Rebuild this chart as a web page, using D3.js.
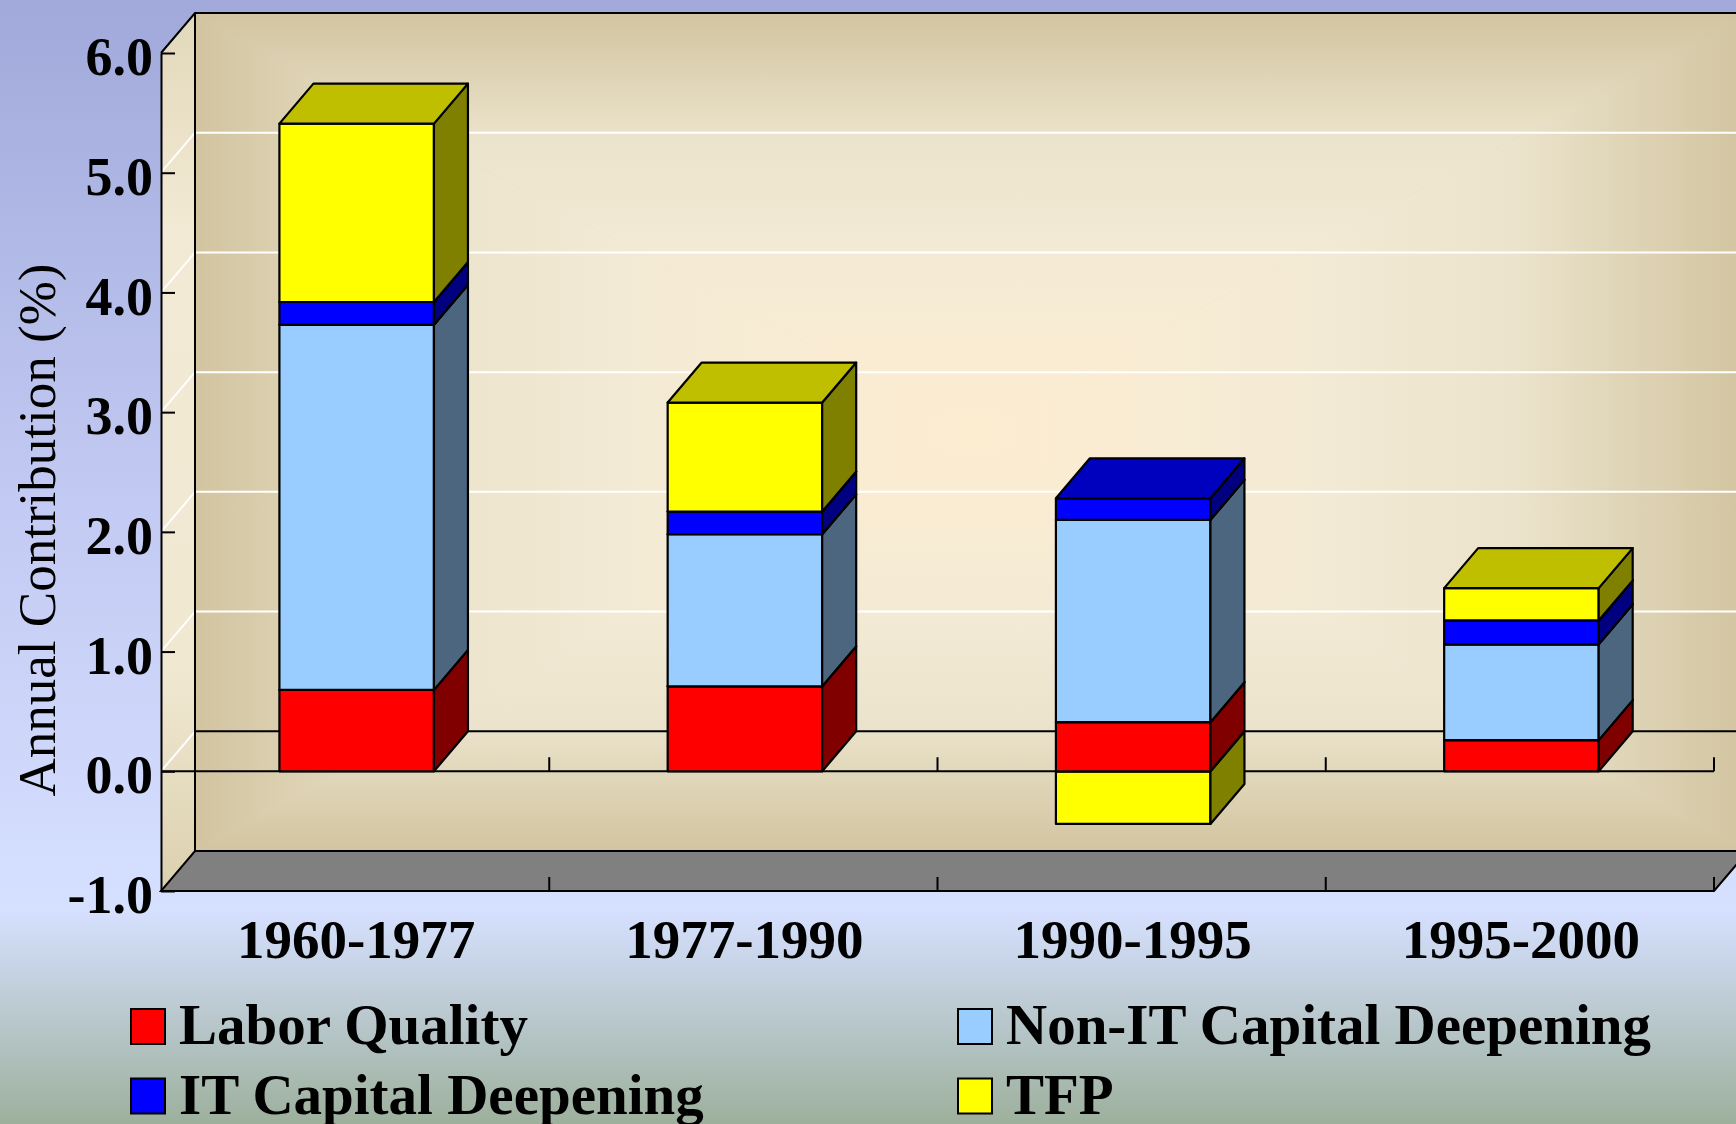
<!DOCTYPE html>
<html>
<head>
<meta charset="utf-8">
<script src="https://cdn.jsdelivr.net/npm/d3@7"></script>
<style>
  body { margin: 0; }
  svg { display: block; }
</style>
</head>
<body>
<svg id="chart" width="1736" height="1124"></svg>
<script>
// values (annual contribution, %)
const periods = ["1960-1977", "1977-1990", "1990-1995", "1995-2000"];
const seriesNames = ["Labor Quality", "Non-IT Capital Deepening", "IT Capital Deepening", "TFP"];
const laborQuality = [0.68, 0.71, 0.41, 0.26];
const nonITCapital = [3.05, 1.27, 1.69, 0.80];
const itCapital = [0.19, 0.19, 0.18, 0.20];
const tfp = [1.49, 0.91, -0.44, 0.27];
const yTicks = [-1, 0, 1, 2, 3, 4, 5, 6];
const seriesColors = ["#ff0000", "#99ccff", "#0000ff", "#ffff00"];

const svg = d3.select("#chart");
const width = +svg.attr("width");
const height = +svg.attr("height");
const margin = {top: 53, right: 22, bottom: 233, left: 161};

// 3d depth offset
const DX = 34, DY = 40;
const font = "'Liberation Serif', 'Times New Roman', serif";

const x = d3.scaleBand()
  .domain(periods)
  .range([margin.left, width - margin.right]);

const y = d3.scaleLinear()
  .domain([-1, 6])
  .range([height - margin.bottom, margin.top]);

const keys = ["labor", "nonIT", "it", "tfp"];
const rows = periods.map((p, i) => ({
  period: p, labor: laborQuality[i], nonIT: nonITCapital[i], it: itCapital[i], tfp: tfp[i]
}));
const stacked = d3.stack().keys(keys).offset(d3.stackOffsetDiverging)(rows);

const shade = (c, k) => { const r = d3.rgb(c); return d3.rgb(r.r * k, r.g * k, r.b * k).formatHex(); };

const defs = svg.append("defs");

// page background
const bg = defs.append("linearGradient").attr("id", "pageBg")
  .attr("x1", 0).attr("y1", 0).attr("x2", 0).attr("y2", 1);
bg.append("stop").attr("offset", 0).attr("stop-color", "#a0a9da");
bg.append("stop").attr("offset", 0.45).attr("stop-color", "#c3caf3");
bg.append("stop").attr("offset", 0.81).attr("stop-color", "#d6e0ff");
bg.append("stop").attr("offset", 1).attr("stop-color", "#9db09c");

svg.append("rect").attr("width", width).attr("height", height).attr("fill", "url(#pageBg)");

// back wall, "from center" rectangular gradient made of 4 triangles
const X0 = margin.left + DX, X1 = width - margin.right + DX;
const Y0 = y(6) - DY, Y1 = y(-1) - DY;
const cx = (X0 + X1) / 2, cy = (Y0 + Y1) / 2;
const wallStops = [[0, "#d2c4a0"], [0.3, "#ebe3cb"], [0.55, "#f3ead5"], [1, "#fdedd1"]];
const wallParts = [
  {id: "wT", pts: [[X0, Y0], [X1, Y0], [cx, cy]], g: [cx, Y0, cx, cy]},
  {id: "wB", pts: [[X0, Y1], [X1, Y1], [cx, cy]], g: [cx, Y1, cx, cy]},
  {id: "wL", pts: [[X0, Y0], [X0, Y1], [cx, cy]], g: [X0, cy, cx, cy]},
  {id: "wR", pts: [[X1, Y0], [X1, Y1], [cx, cy]], g: [X1, cy, cx, cy]}
];
wallParts.forEach(w => {
  const lg = defs.append("linearGradient").attr("id", w.id)
    .attr("gradientUnits", "userSpaceOnUse")
    .attr("x1", w.g[0]).attr("y1", w.g[1]).attr("x2", w.g[2]).attr("y2", w.g[3]);
  wallStops.forEach(s => lg.append("stop").attr("offset", s[0]).attr("stop-color", s[1]));
});
svg.append("g").selectAll("polygon")
  .data(wallParts)
  .join("polygon")
  .attr("points", d => d.pts.join(" "))
  .attr("fill", d => `url(#${d.id})`)
  .attr("stroke", d => `url(#${d.id})`)
  .attr("stroke-width", 0.6);

// left side wall
const side = defs.append("linearGradient").attr("id", "sideWall")
  .attr("x1", 0).attr("y1", 0).attr("x2", 0).attr("y2", 1);
side.append("stop").attr("offset", 0).attr("stop-color", "#e2d8ba");
side.append("stop").attr("offset", 0.25).attr("stop-color", "#f3ead5");
side.append("stop").attr("offset", 0.75).attr("stop-color", "#f1e8d2");
side.append("stop").attr("offset", 1).attr("stop-color", "#dbd0ae");

svg.append("polygon")
  .attr("points", [[margin.left, y(6)], [X0, Y0], [X0, Y1], [margin.left, y(-1)]].join(" "))
  .attr("fill", "url(#sideWall)");

// gridlines: back wall and side wall
const grid = svg.append("g").attr("stroke", "#ffffff").attr("stroke-width", 2);
grid.selectAll(".gb")
  .data(yTicks.filter(v => v > 0 && v < 6))
  .join("line")
  .attr("x1", X0).attr("x2", X1)
  .attr("y1", d => y(d) - DY).attr("y2", d => y(d) - DY);
grid.selectAll(".gs")
  .data(yTicks.filter(v => v >= 0 && v < 6))
  .join("line")
  .attr("x1", margin.left).attr("y1", d => y(d))
  .attr("x2", X0).attr("y2", d => y(d) - DY);

// floor
svg.append("polygon")
  .attr("points", [[margin.left, y(-1)], [width - margin.right, y(-1)], [X1, Y1], [X0, Y1]].join(" "))
  .attr("fill", "#808080")
  .attr("stroke", "#000").attr("stroke-width", 2);

// wall outlines
const frame = svg.append("g").attr("stroke", "#000").attr("stroke-width", 2).attr("fill", "none");
frame.append("path").attr("d", `M${margin.left},${y(6)}L${X0},${Y0}H${X1 + 10}`);
frame.append("path").attr("d", `M${X0},${Y0}V${Y1}`);
frame.append("path").attr("d", `M${X0},${y(0) - DY}H${X1}`);

// front zero line and category ticks
const catEdges = periods.map(p => x(p) + x.bandwidth());
frame.append("path").attr("d", `M${margin.left},${y(0)}H${width - margin.right}`);
frame.selectAll(".ct")
  .data(catEdges)
  .join("path")
  .attr("d", d => `M${d},${y(0)}v-14M${d},${y(-1)}v-14`);

// y axis
const yAxis = svg.append("g")
  .attr("transform", `translate(${margin.left},0)`)
  .call(d3.axisLeft(y).tickValues(yTicks).tickFormat(d => d.toFixed(1))
    .tickSizeInner(-14).tickSizeOuter(0).tickPadding(8));
yAxis.selectAll("path, line").attr("stroke", "#000").attr("stroke-width", 2);
yAxis.selectAll("text")
  .attr("dy", "0.4em")
  .attr("fill", "#000")
  .style("font-family", font)
  .style("font-size", "54px")
  .style("font-weight", "bold");

// 3d stacked bars
const bw = x.bandwidth() * 0.398;
const bx = p => x(p) + x.bandwidth() * 0.305;

const segments = periods.map((p, i) =>
  stacked.map((s, k) => ({period: p, k, v0: s[i][0], v1: s[i][1]}))
    .filter(d => d.v1 !== d.v0)
    .sort((a, b) => a.v0 - b.v0)
);

const bars = svg.append("g")
  .attr("stroke", "#000")
  .attr("stroke-width", 2.2)
  .attr("stroke-linejoin", "round");

bars.selectAll("g.bar")
  .data(segments)
  .join("g")
  .attr("class", "bar")
  .each(function(segs) {
    const g = d3.select(this);
    segs.forEach(d => {
      const xl = bx(d.period), xr = xl + bw;
      const yt = y(d.v1), yb = y(d.v0);
      const c = seriesColors[d.k];
      g.append("rect")
        .attr("x", xl).attr("y", yt)
        .attr("width", bw).attr("height", yb - yt)
        .attr("fill", c);
      g.append("polygon")
        .attr("points", [[xr, yt], [xr + DX, yt - DY], [xr + DX, yb - DY], [xr, yb]].join(" "))
        .attr("fill", shade(c, 0.5));
      g.append("polygon")
        .attr("points", [[xl, yt], [xr, yt], [xr + DX, yt - DY], [xl + DX, yt - DY]].join(" "))
        .attr("fill", shade(c, 0.75));
    });
  });

// category labels
svg.append("g")
  .selectAll("text")
  .data(periods)
  .join("text")
  .attr("x", d => x(d) + x.bandwidth() / 2 + 1)
  .attr("y", 958)
  .attr("text-anchor", "middle")
  .style("font-family", font)
  .style("font-size", "55px")
  .style("font-weight", "bold")
  .text(d => d);

// y axis title
svg.append("text")
  .attr("transform", `translate(55, 530) rotate(-90)`)
  .attr("text-anchor", "middle")
  .style("font-family", font)
  .style("font-size", "53px")
  .text("Annual Contribution (%)");

// legend
const legend = svg.append("g")
  .selectAll("g")
  .data(seriesNames)
  .join("g")
  .attr("transform", (d, i) => `translate(${i % 2 === 0 ? 131 : 958}, ${1044 + Math.floor(i / 2) * 69.5})`);

legend.append("rect")
  .attr("x", 0).attr("y", -35)
  .attr("width", 34).attr("height", 35)
  .attr("fill", (d, i) => seriesColors[i])
  .attr("stroke", "#000").attr("stroke-width", 2);

legend.append("text")
  .attr("x", 48).attr("y", 0)
  .style("font-family", font)
  .style("font-size", "57px")
  .style("font-weight", "bold")
  .text(d => d);
</script>
</body>
</html>
